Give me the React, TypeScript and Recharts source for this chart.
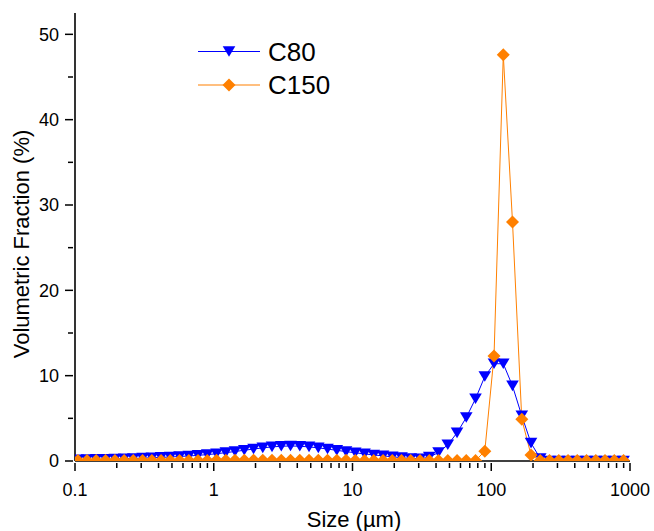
import React from 'react';
import { LineChart, Line, XAxis, YAxis, Legend, Label } from 'recharts';

const sizes = [
  0.105, 0.122, 0.142, 0.166, 0.194, 0.226, 0.263, 0.307, 0.358, 0.417,
  0.486, 0.567, 0.661, 0.770, 0.898, 1.047, 1.221, 1.423, 1.660, 1.935,
  2.256, 2.630, 3.067, 3.576, 4.169, 4.861, 5.668, 6.607, 7.704, 8.983,
  10.47, 12.21, 14.23, 16.60, 19.35, 22.56, 26.30, 30.67, 35.76, 41.69,
  48.61, 56.68, 66.07, 77.04, 89.83, 104.7, 122.1, 142.3, 166.0, 193.5,
  225.6, 263.0, 306.7, 357.6, 416.9, 486.1, 566.8, 660.7, 770.4, 898.3,
];

const c80 = [
  0.15, 0.17, 0.19, 0.21, 0.24, 0.27, 0.30, 0.34, 0.38, 0.42,
  0.47, 0.53, 0.59, 0.66, 0.75, 0.85, 0.98, 1.11, 1.26, 1.40,
  1.54, 1.65, 1.73, 1.76, 1.73, 1.65, 1.54, 1.40, 1.25, 1.10,
  0.96, 0.83, 0.71, 0.60, 0.49, 0.39, 0.30, 0.26, 0.45, 1.0,
  1.9, 3.3, 5.1, 7.3, 9.9, 11.4, 11.4, 8.8, 5.3, 2.1,
  0.3, 0, 0, 0, 0, 0, 0, 0, 0, 0,
];

const c150 = [
  0.05, 0.05, 0.05, 0.05, 0.05, 0.05, 0.05, 0.05, 0.05, 0.05,
  0.05, 0.05, 0.05, 0.05, 0.05, 0.1, 0.1, 0.1, 0.1, 0.1,
  0.1, 0.1, 0.1, 0.1, 0.1, 0.1, 0.1, 0.1, 0.1, 0.1,
  0.05, 0.05, 0.05, 0.05, 0.05, 0.05, 0.05, 0.05, 0.05, 0.05,
  0.05, 0.05, 0.05, 0.05, 1.15, 12.3, 47.6, 28.0, 4.9, 0.7,
  0.05, 0.05, 0.05, 0.05, 0.05, 0.05, 0.05, 0.05, 0.05, 0.05,
];

const xMajorTicks = [0.1, 1, 10, 100, 1000];
const xMinorTicks = [
  0.2, 0.3, 0.4, 0.5, 0.6, 0.7, 0.8, 0.9,
  2, 3, 4, 5, 6, 7, 8, 9,
  20, 30, 40, 50, 60, 70, 80, 90,
  200, 300, 400, 500, 600, 700, 800, 900,
];
const yMajorTicks = [0, 10, 20, 30, 40, 50];
const yMinorTicks = [5, 15, 25, 35, 45];

const BLUE = '#0000FF';
const ORANGE = '#FF8000';
const FONT = "'Liberation Sans', Arial, sans-serif";

const data = sizes.map((s, i) => ({ size: s, C80: c80[i], C150: c150[i] }));

const triPath = (cx: number, cy: number) =>
  `M${cx - 6.3},${cy - 5.3}L${cx + 6.3},${cy - 5.3}L${cx},${cy + 5.3}Z`;
const diaPath = (cx: number, cy: number) =>
  `M${cx},${cy - 6.5}L${cx + 6.5},${cy}L${cx},${cy + 6.5}L${cx - 6.5},${cy}Z`;

const TriDot = (p: any) =>
  p.cx == null || p.cy == null ? null : (
    <path key={`t-${p.index}`} d={triPath(p.cx, p.cy)} fill={BLUE} stroke="none" />
  );
const DiaDot = (p: any) =>
  p.cx == null || p.cy == null ? null : (
    <path key={`d-${p.index}`} d={diaPath(p.cx, p.cy)} fill={ORANGE} stroke="none" />
  );

const XTick = (props: any) => {
  const { x, y, payload } = props;
  const v = payload.value;
  const major = xMajorTicks.includes(v);
  return (
    <g>
      <line x1={x} x2={x} y1={y} y2={y + (major ? 8 : 5)} stroke="#000" strokeWidth={1.5} />
      {major && (
        <text x={x} y={y + 32.5} textAnchor="middle" fontSize={18} fill="#000" fontFamily={FONT}>
          {String(v)}
        </text>
      )}
    </g>
  );
};

const YTick = (props: any) => {
  const { x, y, payload } = props;
  const v = payload.value;
  const major = yMajorTicks.includes(v);
  return (
    <g>
      <line x1={x} x2={x - (major ? 8 : 5)} y1={y} y2={y} stroke="#000" strokeWidth={1.5} />
      {major && (
        <text x={x - 14} y={y + 6.3} textAnchor="end" fontSize={18} fill="#000" fontFamily={FONT}>
          {String(v)}
        </text>
      )}
    </g>
  );
};

const legendItems = [
  { name: 'C80', color: BLUE, shape: 'tri' },
  { name: 'C150', color: ORANGE, shape: 'dia' },
];

const renderLegend = () => (
  <svg width={170} height={75}>
    {legendItems.map((it, i) => {
      const cy = 21.5 + i * 33.5;
      return (
        <g key={it.name}>
          <line x1={8} x2={70} y1={cy} y2={cy} stroke={it.color} strokeWidth={1.2} />
          <path d={it.shape === 'tri' ? triPath(39, cy) : diaPath(39, cy)} fill={it.color} />
          <text x={78} y={cy + 9.2} fontSize={26} fill="#000" fontFamily={FONT}>
            {it.name}
          </text>
        </g>
      );
    })}
  </svg>
);

const YTitle = (props: any) => {
  const vb = props.viewBox || {};
  const cx = vb.x + 6;
  const cy = vb.y + vb.height / 2 + 7;
  return (
    <text
      x={cx}
      y={cy}
      transform={`rotate(-90, ${cx}, ${cy})`}
      textAnchor="middle"
      dominantBaseline="central"
      fontSize={22}
      fill="#000"
      fontFamily={FONT}
    >
      Volumetric Fraction (%)
    </text>
  );
};

const XTitle = (props: any) => {
  const vb = props.viewBox || {};
  const cx = vb.x + vb.width / 2 + 1.5;
  const cy = vb.y + 58;
  return (
    <text x={cx} y={cy + 7.8} textAnchor="middle" fontSize={22} fill="#000" fontFamily={FONT}>
      Size (µm)
    </text>
  );
};

export default function App() {
  return (
    <div style={{ position: 'absolute', left: 0, top: 0, background: '#fff' }}>
      <LineChart
        width={654}
        height={531}
        data={data}
        margin={{ top: 13, right: 24, bottom: 20, left: 15 }}
      >
        <XAxis
          dataKey="size"
          type="number"
          scale="log"
          domain={[0.1, 1000]}
          allowDataOverflow
          ticks={[...xMajorTicks, ...xMinorTicks]}
          interval={0}
          tickSize={0}
          tickLine={false}
          tick={<XTick />}
          height={50}
          axisLine={{ stroke: '#000', strokeWidth: 1.6 }}
        >
          <Label content={<XTitle />} />
        </XAxis>
        <YAxis
          type="number"
          domain={[0, 52.5]}
          allowDataOverflow
          ticks={[...yMajorTicks, ...yMinorTicks]}
          interval={0}
          tickSize={0}
          tickLine={false}
          tick={<YTick />}
          width={60}
          axisLine={{ stroke: '#000', strokeWidth: 1.6 }}
        >
          <Label content={<YTitle />} />
        </YAxis>
        <Legend
          layout="vertical"
          align="center"
          verticalAlign="middle"
          content={renderLegend}
          wrapperStyle={{ position: 'absolute', left: 190, top: 30, width: 170, height: 75 }}
        />
        <Line
          type="linear"
          dataKey="C80"
          name="C80"
          stroke={BLUE}
          strokeWidth={1}
          dot={TriDot}
          activeDot={false}
          isAnimationActive={false}
        />
        <Line
          type="linear"
          dataKey="C150"
          name="C150"
          stroke={ORANGE}
          strokeWidth={1}
          dot={DiaDot}
          activeDot={false}
          isAnimationActive={false}
        />
      </LineChart>
    </div>
  );
}
